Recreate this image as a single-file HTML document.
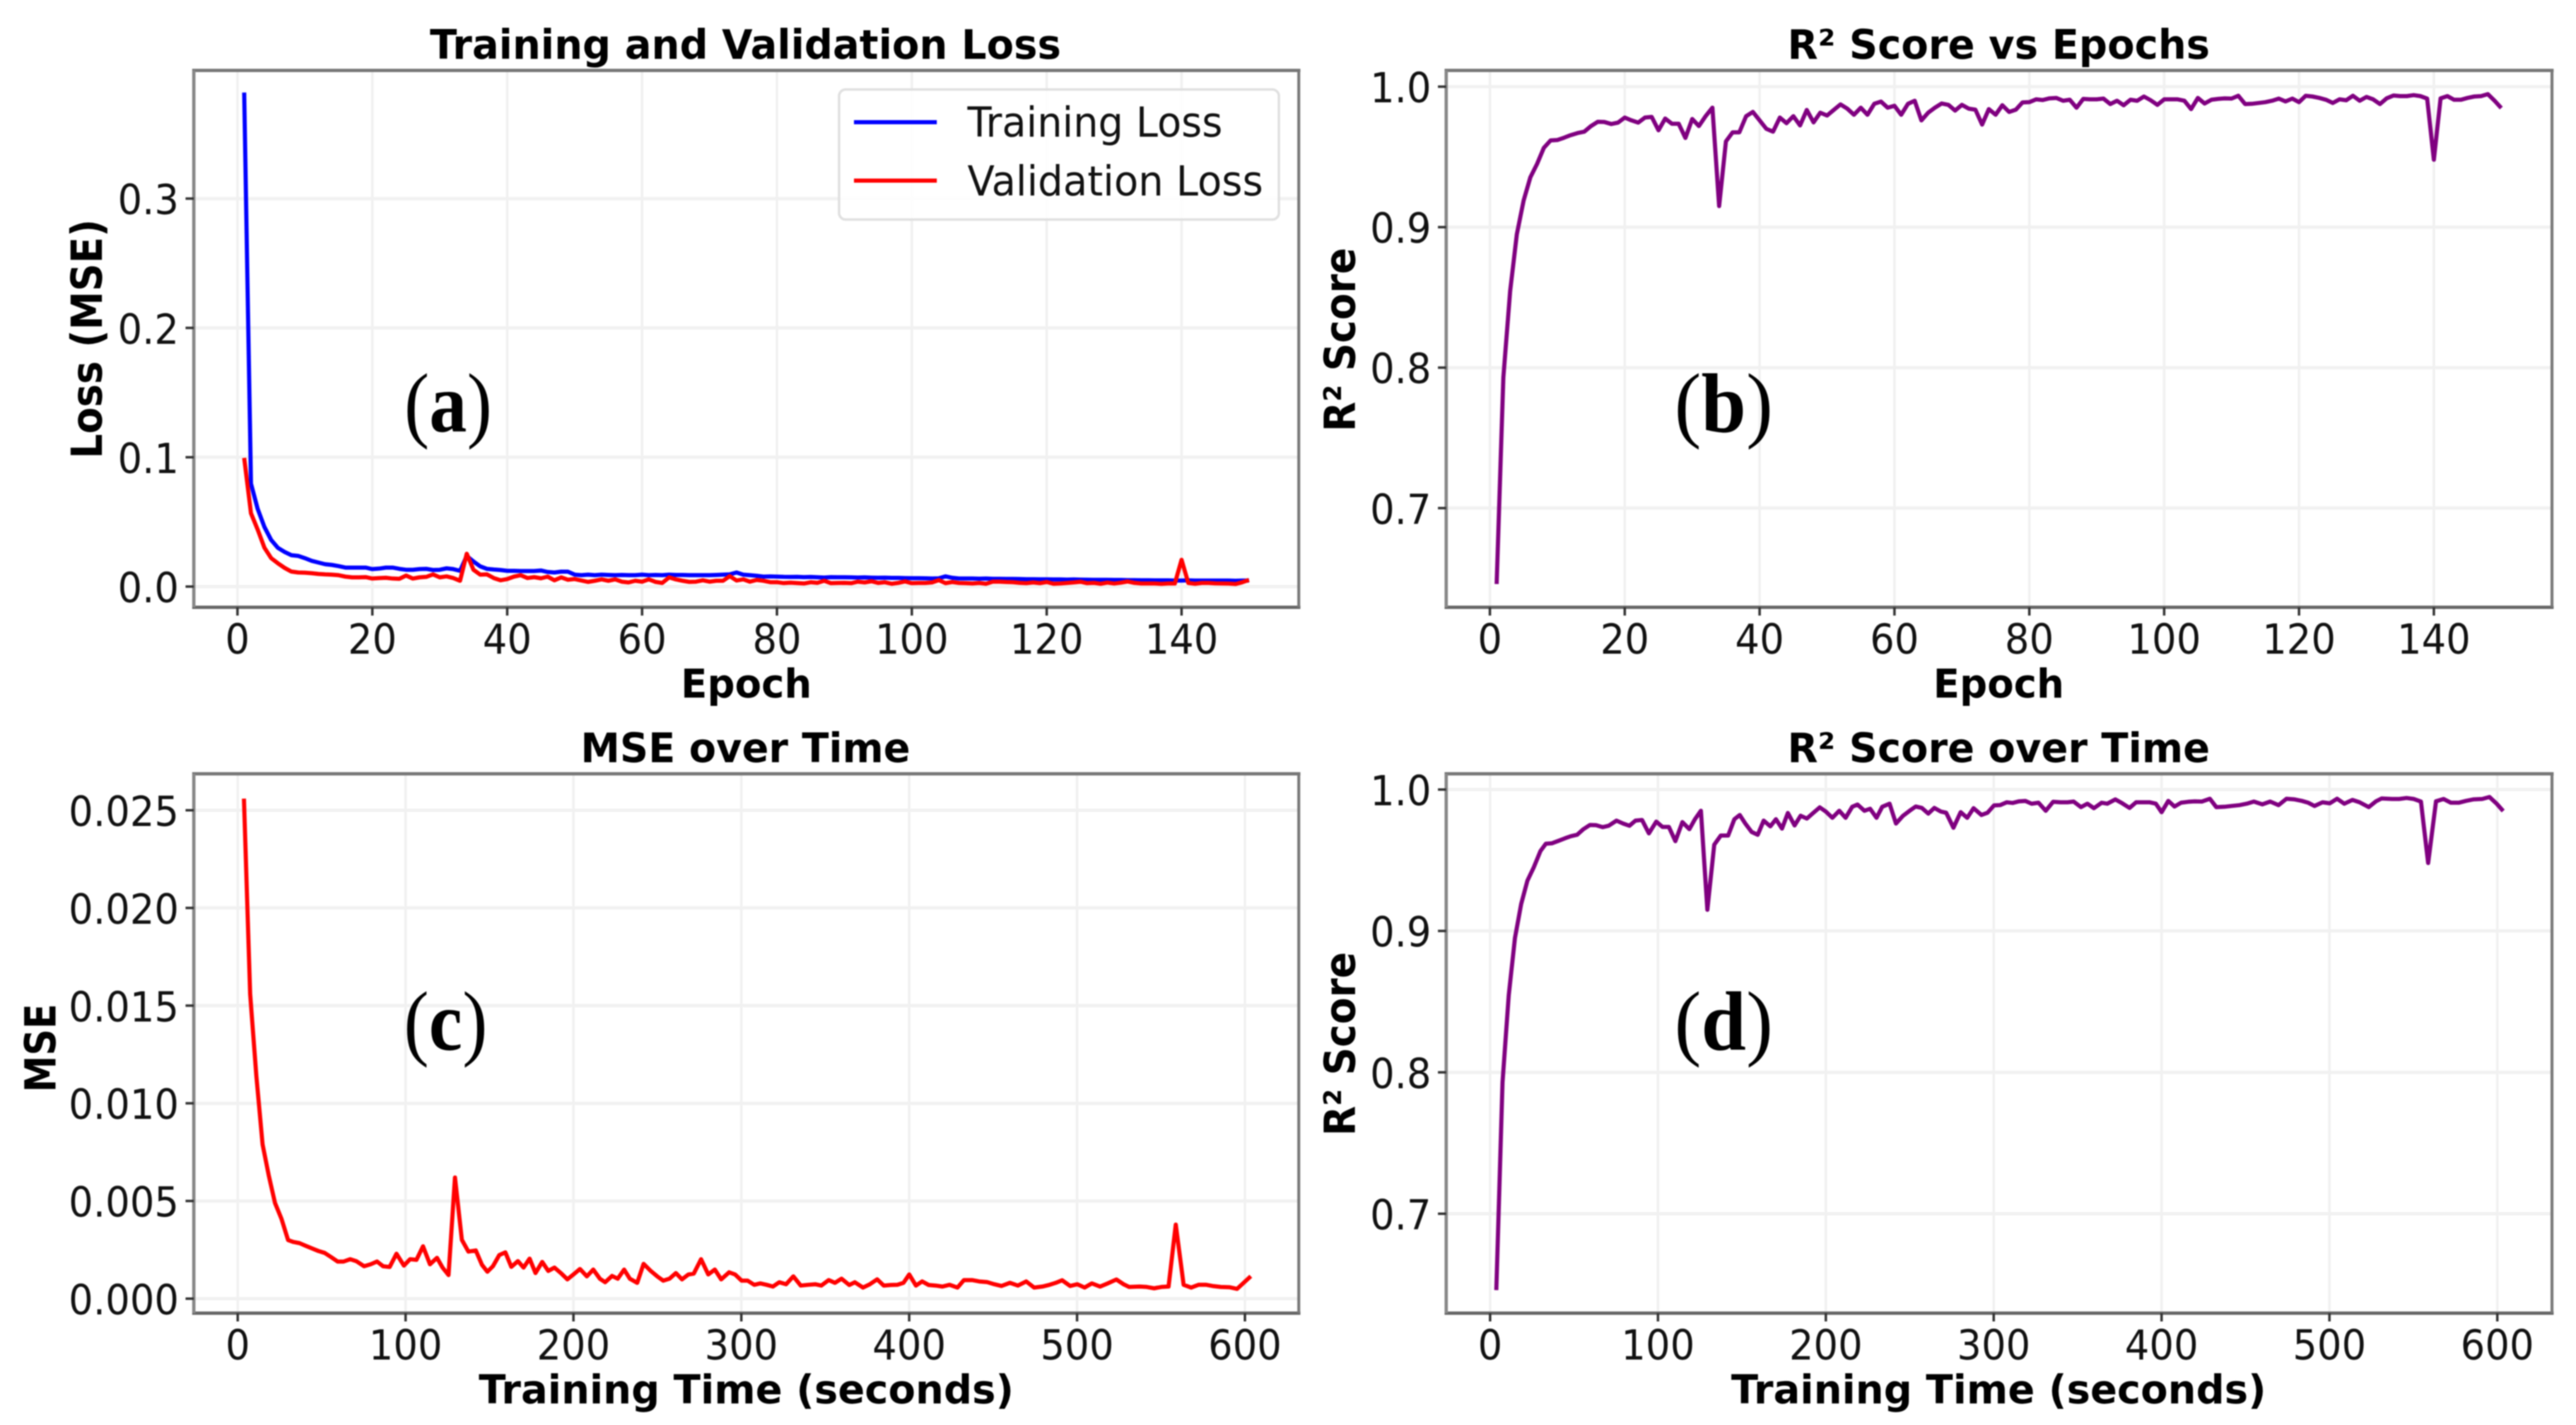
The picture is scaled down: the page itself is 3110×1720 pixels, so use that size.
<!DOCTYPE html>
<html lang="en">
<head>
<meta charset="utf-8">
<title>Training metrics</title>
<style>
html,body{margin:0;padding:0;background:#fff;width:3110px;height:1720px;overflow:hidden}
svg{display:block;filter:blur(0.9px)}
.sans{font-family:"DejaVu Sans","Liberation Sans",sans-serif}
.serif{font-family:"Liberation Serif",serif;font-weight:bold}
.thin{font-weight:normal}
.b{font-weight:bold}
</style>
</head>
<body>
<svg id="figure" xmlns="http://www.w3.org/2000/svg" width="3110" height="1720" viewBox="0 0 3110 1720">
<rect x="0" y="0" width="3110" height="1720" fill="#fff"/>
<g id="layer"></g>
<g class="sans b" font-size="49" fill="#000" text-anchor="middle">
<text x="900" y="71" textLength="762" lengthAdjust="spacingAndGlyphs">Training and Validation Loss</text>
<text x="2413" y="71" textLength="510" lengthAdjust="spacingAndGlyphs">R² Score vs Epochs</text>
<text x="900" y="920" textLength="398" lengthAdjust="spacingAndGlyphs">MSE over Time</text>
<text x="2413" y="920" textLength="510" lengthAdjust="spacingAndGlyphs">R² Score over Time</text>
</g>
<g class="sans b" font-size="48" fill="#000" text-anchor="middle">
<text x="901" y="842" textLength="158" lengthAdjust="spacingAndGlyphs">Epoch</text>
<text x="2413" y="842" textLength="158" lengthAdjust="spacingAndGlyphs">Epoch</text>
<text x="901" y="1694" textLength="646" lengthAdjust="spacingAndGlyphs">Training Time (seconds)</text>
<text x="2413" y="1694" textLength="646" lengthAdjust="spacingAndGlyphs">Training Time (seconds)</text>
</g>
<g class="sans b" font-size="52" fill="#000" text-anchor="middle">
<text transform="translate(123,409) rotate(-90)" textLength="289" lengthAdjust="spacingAndGlyphs">Loss (MSE)</text>
<text transform="translate(1636,410) rotate(-90)" textLength="222" lengthAdjust="spacingAndGlyphs">R² Score</text>
<text transform="translate(67,1265) rotate(-90)" textLength="107" lengthAdjust="spacingAndGlyphs">MSE</text>
<text transform="translate(1636,1260) rotate(-90)" textLength="222" lengthAdjust="spacingAndGlyphs">R² Score</text>
</g>
<g class="serif" font-size="102" fill="#000" text-anchor="middle">
<text x="541" y="521" textLength="106" lengthAdjust="spacingAndGlyphs"><tspan class="thin">(</tspan>a<tspan class="thin">)</tspan></text>
<text x="2081" y="521" textLength="119" lengthAdjust="spacingAndGlyphs"><tspan class="thin">(</tspan>b<tspan class="thin">)</tspan></text>
<text x="538" y="1267" textLength="101" lengthAdjust="spacingAndGlyphs"><tspan class="thin">(</tspan>c<tspan class="thin">)</tspan></text>
<text x="2081" y="1267" textLength="119" lengthAdjust="spacingAndGlyphs"><tspan class="thin">(</tspan>d<tspan class="thin">)</tspan></text>
</g>
<g>
<rect x="1013" y="108" width="531" height="157" rx="8" ry="8" fill="#fff" fill-opacity="0.85" stroke="#e0e0e0" stroke-width="3"/>
<line x1="1031" y1="147.5" x2="1131" y2="147.5" stroke="#0000ff" stroke-width="5"/>
<line x1="1031" y1="218" x2="1131" y2="218" stroke="#ff0000" stroke-width="5"/>
<text class="sans" x="1168" y="165" font-size="50" fill="#111" textLength="308" lengthAdjust="spacingAndGlyphs">Training Loss</text>
<text class="sans" x="1168" y="236" font-size="50" fill="#111" textLength="357" lengthAdjust="spacingAndGlyphs">Validation Loss</text>
</g>
</svg>
<script>
// ---- chart data ----
const epochs = [
1,2,3,4,5,6,7,8,9,10,
11,12,13,14,15,16,17,18,19,20,
21,22,23,24,25,26,27,28,29,30,
31,32,33,34,35,36,37,38,39,40,
41,42,43,44,45,46,47,48,49,50,
51,52,53,54,55,56,57,58,59,60,
61,62,63,64,65,66,67,68,69,70,
71,72,73,74,75,76,77,78,79,80,
81,82,83,84,85,86,87,88,89,90,
91,92,93,94,95,96,97,98,99,100,
101,102,103,104,105,106,107,108,109,110,
111,112,113,114,115,116,117,118,119,120,
121,122,123,124,125,126,127,128,129,130,
131,132,133,134,135,136,137,138,139,140,
141,142,143,144,145,146,147,148,149,150];
const trainingSeconds = [
3.7,7.4,11.1,14.8,18.5,22.2,26,30,33.2,36.8,
40.6,44.5,48.1,51.8,55.6,59.5,63.1,67,70.6,75.3,
79.2,83,86.6,90.5,94.6,99,102.7,106.5,110.4,114.5,
118.7,122,125.6,129.4,133.5,137.4,141.8,145.5,148.7,152,
155.8,159.4,163,166.9,170.3,173.9,177.4,181.4,185,188.7,
192.5,196.4,200,203.9,208,211.8,215.7,218.9,223,226.4,
230.2,233.6,238,241.8,246,249.9,253.5,257.2,261,264.6,
268.5,271.7,276,280.3,284.2,288,292.7,296.3,300.2,303.8,
307.7,311.3,315.1,318.8,322.6,326.7,331,335.4,339.7,344,
347.6,352,355.8,359.7,364.3,367.6,372.5,376.6,380.9,384.8,
389,393,396.6,400,404,407.7,411.6,415.8,419.7,424,
428.8,432.6,437.4,441.7,446.4,450.7,455,460,464.7,469.7,
474.4,479.3,483.6,487.3,491.1,495.9,500.2,504.5,508.8,513.7,
518,523.4,527.7,531,537.3,541.6,545.9,550.2,554.5,558.8,
563.5,568,572.3,577,581.3,585.6,591,595.3,599.6,603.5];
const trainingLoss = [
.382,.0796,.060,.046,.036,.030,.0268,.0243,.0237,.022,
.0199,.0186,.0173,.0167,.0158,.0147,.0147,.0147,.0147,.0135,
.0139,.0147,.0147,.0137,.013,.013,.0135,.0137,.0128,.013,
.0141,.0135,.0122,.0237,.0194,.0156,.0137,.0132,.0128,.0122,
.0122,.012,.012,.012,.0124,.0113,.0109,.0115,.0115,.0092,
.0088,.0092,.0088,.0092,.009,.0088,.009,.0088,.0088,.0092,
.0088,.009,.0088,.0092,.009,.009,.0088,.0088,.0088,.0088,
.009,.0092,.0094,.0109,.0092,.0088,.0083,.0077,.0079,.0077,
.0075,.0074,.0075,.0073,.0074,.0072,.0070,.0073,.0072,.0072,
.0071,.0070,.0071,.0069,.0068,.0069,.0067,.0067,.0066,.0065,
.0065,.0064,.0063,.0064,.0079,.0068,.0063,.0063,.0062,.0061,
.0062,.0060,.0060,.0059,.0059,.0058,.0057,.0057,.0056,.0056,
.0055,.0055,.0054,.0055,.0054,.0053,.0052,.0052,.0052,.0051,
.0051,.0050,.0050,.0049,.0049,.0048,.0048,.0048,.0047,.0047,
.0048,.0046,.0047,.0047,.0046,.0046,.0046,.0045,.0046,.0047];
const validationLoss = [
.0995,.0567,.044,.030,.022,.018,.0144,.0116,.0109,.0107,
.0103,.0098,.0094,.0092,.0088,.0077,.0071,.0071,.0073,.0062,
.0066,.0068,.0062,.006,.0085,.0062,.0071,.0075,.0094,.0071,
.0079,.0066,.0045,.0254,.013,.0092,.0094,.0066,.0049,.0058,
.0077,.0088,.0066,.0073,.0064,.0077,.0049,.0071,.0053,.0058,
.0047,.0036,.0045,.0056,.0045,.0056,.0038,.0032,.0045,.0038,
.0056,.0036,.0028,.0071,.0056,.0045,.0036,.0038,.0049,.0038,
.0045,.0045,.0081,.0047,.0056,.0038,.0051,.0045,.0034,.0034,
.0027,.0030,.0027,.0024,.0033,.0029,.0045,.0026,.0028,.0029,
.0026,.0038,.0032,.0041,.0028,.0033,.0022,.0029,.0040,.0026,
.0028,.0028,.0032,.0050,.0026,.0035,.0028,.0026,.0024,.0028,
.0022,.0038,.0038,.0035,.0034,.0029,.0026,.0032,.0026,.0035,
.0022,.0024,.0028,.0032,.0037,.0026,.0029,.0022,.0031,.0024,
.0030,.0039,.0029,.0024,.0024,.0024,.0021,.0024,.0024,.0207,
.0028,.0022,.0028,.0028,.0025,.0024,.0023,.0020,.0033,.0051];
const r2Score = [
.646,.793,.8545,.895,.919,.9355,.945,.9565,.9617,.962,
.9637,.9655,.967,.968,.972,.975,.9748,.9734,.9744,.978,
.976,.9744,.978,.9785,.969,.9773,.9736,.9736,.9635,.977,
.972,.979,.985,.915,.961,.9675,.9675,.979,.982,.976,
.970,.968,.978,.974,.979,.9724,.9834,.9746,.9815,.9795,
.9834,.9874,.9844,.980,.985,.980,.9878,.9894,.985,.9864,
.980,.9878,.990,.976,.9815,.985,.988,.987,.983,.987,
.9844,.9836,.973,.984,.980,.9868,.982,.9836,.9888,.989,
.991,.9905,.9917,.992,.990,.9907,.985,.9913,.991,.991,
.9915,.9876,.99,.9868,.9907,.99,.993,.9903,.987,.991,
.991,.991,.99,.984,.992,.988,.9907,.9913,.9917,.9915,
.9935,.9876,.9878,.9884,.989,.99,.9915,.9895,.9915,.989,
.9935,.993,.992,.9907,.9884,.991,.9903,.9935,.99,.9927,
.991,.9876,.9917,.9937,.9933,.9933,.994,.9933,.9915,.948,
.9917,.9933,.9907,.9907,.992,.993,.9933,.9947,.99,.9848];
const mseOverTime = [
.0256,.0156,.0114,.0079,.0063,.0049,.0041,.0030,.0029,.00284,
.0027,.00256,.00244,.00234,.00213,.0019,.0019,.00202,.00192,.00166,
.00176,.0019,.00166,.00162,.0023,.00169,.00202,.00199,.00268,.00176,
.00209,.00159,.00121,.0062,.00301,.00241,.00247,.00173,.00138,.00166,
.00223,.00237,.00163,.00192,.00159,.00205,.00131,.00188,.00142,.00159,
.00131,.00099,.00124,.00152,.00114,.00149,.00102,.00084,.00116,.00102,
.00149,.00102,.00081,.00178,.00142,.00114,.00092,.00102,.00131,.00099,
.00124,.00128,.00202,.00124,.00149,.00099,.00135,.00124,.00092,.00092,
.00071,.00078,.00071,.00062,.00084,.00074,.00114,.00067,.00071,.00074,
.00067,.00095,.00081,.00102,.0007,.00084,.00057,.00074,.00099,.00067,
.0007,.00071,.00081,.00124,.00067,.00088,.0007,.00067,.00062,.00071,
.00057,.00095,.00095,.00088,.00085,.00074,.00065,.00081,.00067,.00088,
.00057,.00062,.00071,.00081,.00094,.00065,.00074,.00057,.00078,.00062,
.00077,.00098,.00074,.0006,.00062,.0006,.00053,.0006,.00062,.00379,
.00071,.00057,.00071,.00071,.00064,.0006,.00058,.0005,.00084,.00115];

const epochTicks = [0,20,40,60,80,100,120,140];
const timeTicks = [0,100,200,300,400,500,600];
const lossTicks = [0,0.1,0.2,0.3];
const lossTickLabels = ['0.0','0.1','0.2','0.3'];
const r2Ticks = [0.7,0.8,0.9,1.0];
const r2TickLabels = ['0.7','0.8','0.9','1.0'];
const mseTicks = [0,0.005,0.01,0.015,0.02,0.025];
const mseTickLabels = ['0.000','0.005','0.010','0.015','0.020','0.025'];

// ---- axis functions ----
const NS = 'http://www.w3.org/2000/svg';
const layer = document.getElementById('layer');
function linear(d0, p0, d1, p1) { return v => p0 + (v - d0) * (p1 - p0) / (d1 - d0); }

function addLine(parent, name, x1, y1, x2, y2, stroke, w) {
  const el = document.createElementNS(NS, 'line');
  
  
  el.setAttribute('x1', x1); el.setAttribute('y1', y1);
  el.setAttribute('x2', x2); el.setAttribute('y2', y2);
  el.setAttribute('stroke', stroke); el.setAttribute('stroke-width', w);
  parent.appendChild(el);
}
function addLabel(parent, name, str, x, y, anchor) {
  const el = document.createElementNS(NS, 'text');
  
  
  el.setAttribute('class', 'sans');
  el.setAttribute('font-size', '50');
  el.setAttribute('fill', '#111');
  el.setAttribute('text-anchor', anchor);
  el.setAttribute('transform', 'translate(' + x + ',' + y + ') scale(0.93,1)');
  el.textContent = str;
  parent.appendChild(el);
}
function addSeries(parent, name, xs, ys, sx, sy, color, w) {
  const el = document.createElementNS(NS, 'polyline');
  
  
  el.setAttribute('fill', 'none');
  el.setAttribute('stroke', color);
  el.setAttribute('stroke-width', w);
  el.setAttribute('stroke-linejoin', 'round');
  el.setAttribute('points', xs.map((x, i) => sx(x).toFixed(1) + ',' + sy(ys[i]).toFixed(1)).join(' '));
  parent.appendChild(el);
}
function addPanel(p) {
  const g = document.createElementNS(NS, 'g');
  
  
  layer.appendChild(g);
  p.xTicks.forEach(t => addLine(g, 'x-grid-line', p.sx(t), p.top, p.sx(t), p.bottom, '#f0f0f0', 3));
  p.yTicks.forEach(t => addLine(g, 'y-grid-line', p.left, p.sy(t), p.right, p.sy(t), '#f1f1f1', 4));
  p.series.forEach(s => addSeries(g, s.name, p.xs, s.values, p.sx, p.sy, s.color, s.width));
  addLine(g, 'spine-top', p.left - 2, p.top, p.right + 2, p.top, '#777', 4);
  addLine(g, 'spine-bottom', p.left - 2, p.bottom, p.right + 2, p.bottom, '#666', 4);
  addLine(g, 'spine-left', p.left, p.top, p.left, p.bottom, '#888', 4);
  addLine(g, 'spine-right', p.right, p.top, p.right, p.bottom, '#777', 3.5);
  p.xTicks.forEach(t => {
    addLine(g, 'x-tick', p.sx(t), p.bottom, p.sx(t), p.bottom + 10, '#333', 3);
    addLabel(g, 'x-tick-label', String(t), p.sx(t), p.bottom + 56, 'middle');
  });
  p.yTicks.forEach((t, i) => {
    addLine(g, 'y-tick', p.left - 10, p.sy(t), p.left, p.sy(t), '#333', 3);
    addLabel(g, 'y-tick-label', p.yLabels[i], p.left - 18, p.sy(t) + 19, 'end');
  });
}

addPanel({ id: 'a', left: 234, right: 1568, top: 85, bottom: 733,
  sx: linear(0, 286.7, 140, 1426.5), sy: linear(0, 708, 0.3, 239.7),
  xTicks: epochTicks, yTicks: lossTicks, yLabels: lossTickLabels, xs: epochs,
  series: [
    { name: 'training-loss-line', values: trainingLoss, color: '#0000ff', width: 5 },
    { name: 'validation-loss-line', values: validationLoss, color: '#ff0000', width: 5 }
  ] });
addPanel({ id: 'b', left: 1746, right: 3081, top: 85, bottom: 733,
  sx: linear(0, 1798.75, 140, 2938.4), sy: linear(1, 104.6, 0.7, 613.3),
  xTicks: epochTicks, yTicks: r2Ticks, yLabels: r2TickLabels, xs: epochs,
  series: [ { name: 'r2-epoch-line', values: r2Score, color: '#800080', width: 5 } ] });
addPanel({ id: 'c', left: 234, right: 1568, top: 934, bottom: 1585,
  sx: linear(0, 287, 600, 1503), sy: linear(0, 1567.5, 0.025, 978),
  xTicks: timeTicks, yTicks: mseTicks, yLabels: mseTickLabels, xs: trainingSeconds,
  series: [ { name: 'mse-time-line', values: mseOverTime, color: '#ff0000', width: 5 } ] });
addPanel({ id: 'd', left: 1746, right: 3081, top: 934, bottom: 1585,
  sx: linear(0, 1799, 600, 3015), sy: linear(1, 953, 0.7, 1465),
  xTicks: timeTicks, yTicks: r2Ticks, yLabels: r2TickLabels, xs: trainingSeconds,
  series: [ { name: 'r2-time-line', values: r2Score, color: '#800080', width: 5 } ] });
</script>
</body>
</html>
